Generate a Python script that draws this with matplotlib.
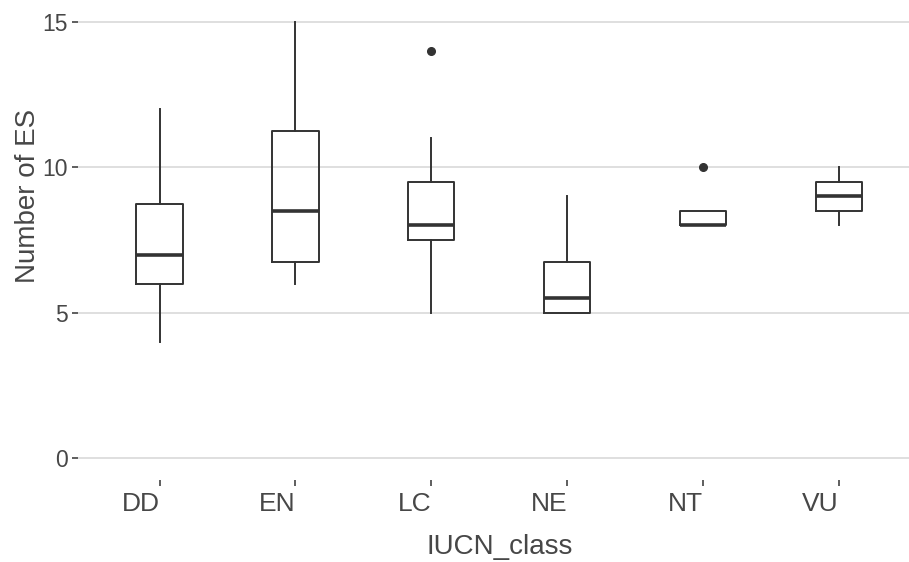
import matplotlib

matplotlib.use("Agg")
import matplotlib.pyplot as plt

# box statistics, one entry per IUCN class
classes = ["DD", "EN", "LC", "NE", "NT", "VU"]
whislo = [4, 6, 5, 5, 8, 8]
q1 = [6, 6.75, 7.5, 5, 8, 8.5]
med = [7, 8.5, 8, 5.5, 8, 9]
q3 = [8.75, 11.25, 9.5, 6.75, 8.5, 9.5]
whishi = [12, 15, 11, 9, 8.5, 10]
fliers = [[], [], [14], [], [10], []]

plt.rcParams["font.family"] = ["Liberation Sans", "DejaVu Sans"]
ink = "#333333"
txt = "#474747"

stats = [
    {"label": c, "whislo": lo, "q1": a, "med": m, "q3": b, "whishi": hi, "fliers": f}
    for c, lo, a, m, b, hi, f in zip(classes, whislo, q1, med, q3, whishi, fliers)
]

fig = plt.figure(figsize=(9.09, 5.62), dpi=100)
ax = fig.add_axes([78 / 909, 82 / 562, 1 - 78 / 909, 480 / 562])
ax.bxp(
    stats,
    positions=range(1, len(classes) + 1),
    widths=0.34,
    showcaps=False,
    boxprops=dict(color=ink, linewidth=1.4),
    whiskerprops=dict(color=ink, linewidth=1.4),
    medianprops=dict(color=ink, linewidth=2.6, solid_capstyle="butt"),
    flierprops=dict(marker="o", markerfacecolor=ink, markeredgecolor=ink, markersize=5.5),
)

ax.set_xlim(0.4, 6.515)
ax.set_ylim(-0.75, 15.75)
ax.set_yticks([0, 5, 10, 15])
ax.set_xticks(range(1, len(classes) + 1))
ax.set_xticklabels(classes, ha="right")
ax.grid(axis="y", color="#d9d9d9", linewidth=1.2)
ax.set_axisbelow(True)
for s in ax.spines.values():
    s.set_visible(False)
ax.tick_params(axis="both", colors=ink, labelcolor=txt, length=4.5, width=1.1)
ax.tick_params(axis="x", labelsize=19, pad=4)
ax.tick_params(axis="y", labelsize=16.5, pad=3)
ax.set_xlabel("IUCN_class", fontsize=20, color=txt)
ax.set_ylabel("Number of ES", fontsize=20, color=txt)
# the original panel ran past the image edges, so the titles sit off-centre
ax.xaxis.set_label_coords(0.507, -0.113)
ax.yaxis.set_label_coords(-0.045, 0.592)

fig.savefig("out.png", dpi=100)
